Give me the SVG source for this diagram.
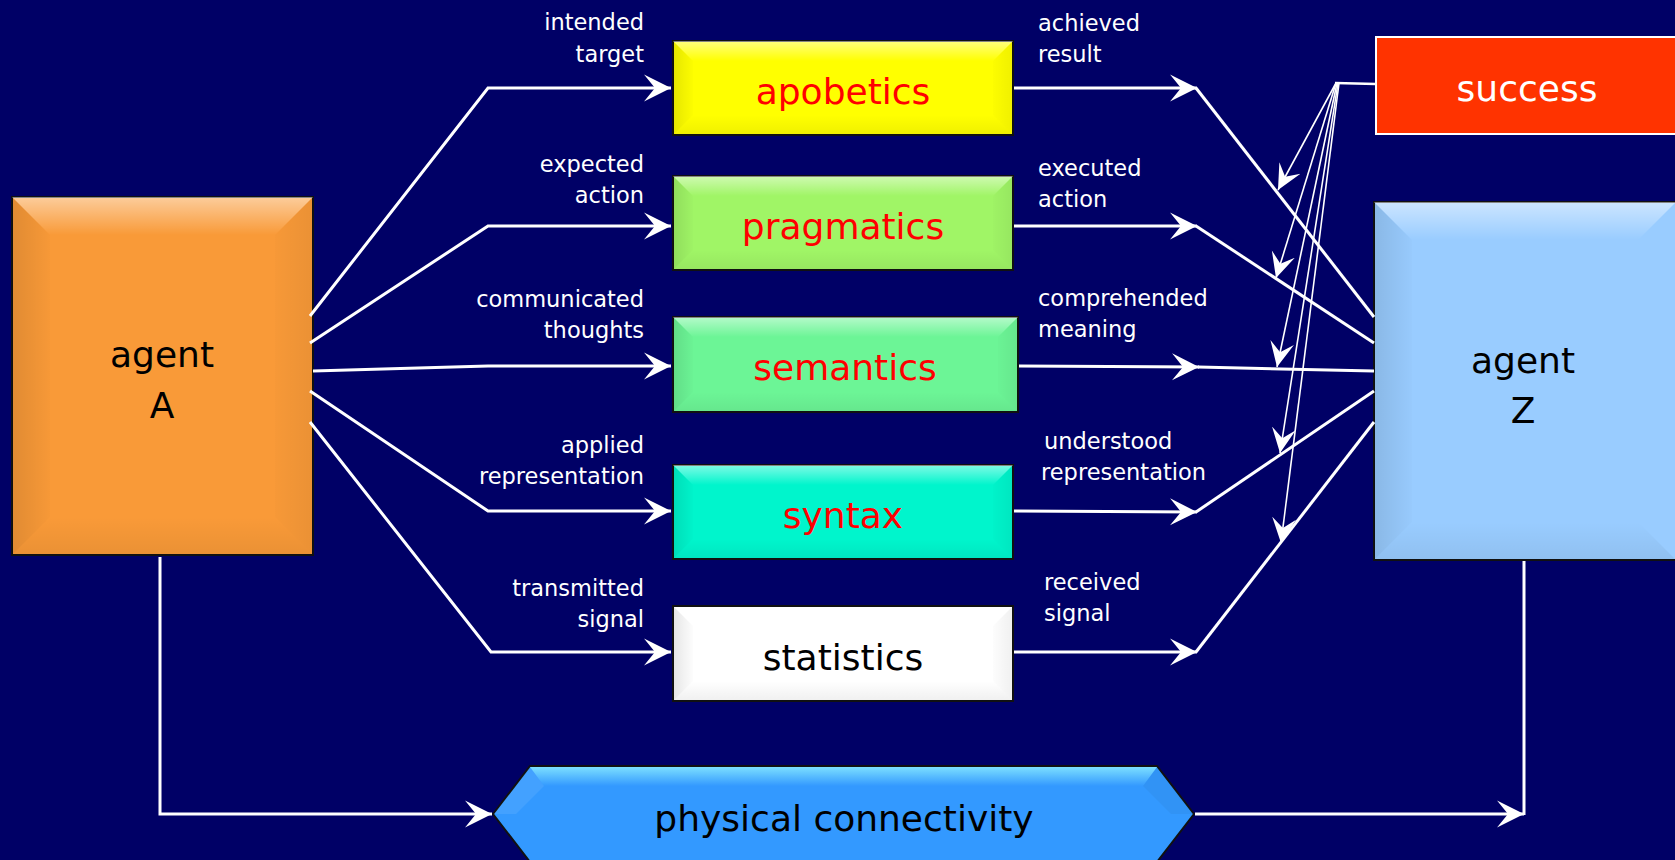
<svg xmlns="http://www.w3.org/2000/svg" width="1675" height="860" viewBox="0 0 1675 860">
<defs>
<linearGradient id="gTop" x1="0" y1="0" x2="0" y2="1"><stop offset="0" stop-color="#fff" stop-opacity="0.5"/><stop offset="1" stop-color="#fff" stop-opacity="0"/></linearGradient>
<linearGradient id="gBot" x1="0" y1="0" x2="0" y2="1"><stop offset="0" stop-color="#000" stop-opacity="0"/><stop offset="1" stop-color="#000" stop-opacity="0.06"/></linearGradient>
<linearGradient id="gLeft" x1="0" y1="0" x2="1" y2="0"><stop offset="0" stop-color="#000" stop-opacity="0.1"/><stop offset="1" stop-color="#000" stop-opacity="0.01"/></linearGradient>
<linearGradient id="gRight" x1="0" y1="0" x2="1" y2="0"><stop offset="0" stop-color="#000" stop-opacity="0.01"/><stop offset="1" stop-color="#000" stop-opacity="0.06"/></linearGradient>
<linearGradient id="gHex" x1="0" y1="0" x2="0" y2="1"><stop offset="0" stop-color="#8ef0ff"/><stop offset="1" stop-color="#3399ff"/></linearGradient>
<marker id="arr" markerUnits="userSpaceOnUse" markerWidth="28" markerHeight="28" refX="27" refY="13.5" orient="auto" viewBox="0 0 28 27">
<path d="M0,0 L27,13.5 L0,27 L11,13.5 z" fill="#fff"/>
</marker>
<marker id="arrs" markerUnits="userSpaceOnUse" markerWidth="26" markerHeight="26" refX="25" refY="12" orient="auto" viewBox="0 0 26 24">
<path d="M0,0 L25,12 L0,24 L10,12 z" fill="#fff"/>
</marker>
</defs>
<style>
.box{stroke:#111;stroke-width:2}
.t{fill:url(#gTop)}.b{fill:url(#gBot)}.l{fill:url(#gLeft)}.r{fill:url(#gRight)}
.big{font-family:"DejaVu Sans","Liberation Sans",sans-serif;font-size:36px;text-anchor:middle}
.lab{font-family:"DejaVu Sans","Liberation Sans",sans-serif;font-size:22.5px;fill:#fff}
.le{text-anchor:end}
.ln{fill:none;stroke:#fff;stroke-width:3}
.th{fill:none;stroke:#fff;stroke-width:1.6}
</style>
<rect x="0" y="0" width="1675" height="860" fill="#000066"/>

<g id="agentA">
<rect class="box" x="12" y="197" width="301" height="358" fill="#f99a38"/>
<polygon class="t" points="12,197 313,197 275,235 50,235"/>
<polygon class="l" points="12,197 50,235 50,517 12,555"/>
<polygon class="r" points="313,197 275,235 275,517 313,555"/>
<polygon class="b" points="12,555 313,555 275,517 50,517"/>
<text class="big" x="162" y="367" fill="#000">agent</text>
<text class="big" x="162" y="418" fill="#000">A</text>
</g>

<g id="agentZ">
<rect class="box" x="1374" y="202" width="302" height="358" fill="#99ccff"/>
<polygon class="t" points="1374,202 1676,202 1638,240 1412,240"/>
<polygon class="l" points="1374,202 1412,240 1412,522 1374,560"/>
<polygon class="b" points="1374,560 1676,560 1638,522 1412,522"/>
<text class="big" x="1523" y="373" fill="#000">agent</text>
<text class="big" x="1523" y="423" fill="#000">Z</text>
</g>

<g id="success">
<rect x="1376" y="37" width="302" height="97" fill="#ff3300" stroke="#fff" stroke-width="2"/>
<text class="big" x="1527" y="101" fill="#fff">success</text>
</g>

<g id="apobetics">
<rect class="box" x="673" y="41" width="340" height="94" fill="#ffff00"/>
<polygon class="t" points="673,41 1013,41 993,61 693,61"/>
<polygon class="l" points="673,41 693,61 693,115 673,135"/>
<polygon class="r" points="1013,41 993,61 993,115 1013,135"/>
<polygon class="b" points="673,135 1013,135 993,115 693,115"/>
<text class="big" x="843" y="104" fill="#ff0000">apobetics</text>
</g>

<g id="pragmatics">
<rect class="box" x="673" y="176" width="340" height="94" fill="#a0f566"/>
<polygon class="t" points="673,176 1013,176 993,196 693,196"/>
<polygon class="l" points="673,176 693,196 693,250 673,270"/>
<polygon class="r" points="1013,176 993,196 993,250 1013,270"/>
<polygon class="b" points="673,270 1013,270 993,250 693,250"/>
<text class="big" x="843" y="239" fill="#ff0000">pragmatics</text>
</g>

<g id="semantics">
<rect class="box" x="673" y="317" width="345" height="95" fill="#6cf596"/>
<polygon class="t" points="673,317 1018,317 998,337 693,337"/>
<polygon class="l" points="673,317 693,337 693,392 673,412"/>
<polygon class="r" points="1018,317 998,337 998,392 1018,412"/>
<polygon class="b" points="673,412 1018,412 998,392 693,392"/>
<text class="big" x="845" y="380" fill="#ff0000">semantics</text>
</g>

<g id="syntax">
<rect class="box" x="673" y="465" width="340" height="94" fill="#00f5cc"/>
<polygon class="t" points="673,465 1013,465 993,485 693,485"/>
<polygon class="l" points="673,465 693,485 693,539 673,559"/>
<polygon class="r" points="1013,465 993,485 993,539 1013,559"/>
<polygon class="b" points="673,559 1013,559 993,539 693,539"/>
<text class="big" x="843" y="528" fill="#ff0000">syntax</text>
</g>

<g id="statistics">
<rect class="box" x="673" y="606" width="340" height="95" fill="#ffffff"/>
<polygon class="l" points="673,606 693,626 693,681 673,701"/>
<polygon class="r" points="1013,606 993,626 993,681 1013,701"/>
<polygon class="b" points="673,701 1013,701 993,681 693,681"/>
<text class="big" x="843" y="670" fill="#000">statistics</text>
</g>

<g id="physical">
<polygon points="493,814 530,766 1157,766 1194,814 1157,862 530,862" fill="#3399ff" stroke="#111" stroke-width="2"/>
<polygon points="530,767 1157,767 1143,786 544,786" fill="url(#gHex)" opacity="0.8"/>
<polygon points="494,814 530,767 544,786 516,814" fill="#fff" opacity="0.08"/>
<polygon points="1193,814 1157,767 1143,786 1171,814" fill="#000" opacity="0.04"/>
<text class="big" x="844" y="831" fill="#000">physical connectivity</text>
</g>

<g id="labels">
<text class="lab le" x="644" y="30">intended</text>
<text class="lab le" x="644" y="62">target</text>
<text class="lab le" x="644" y="172">expected</text>
<text class="lab le" x="644" y="203">action</text>
<text class="lab le" x="644" y="307">communicated</text>
<text class="lab le" x="644" y="338">thoughts</text>
<text class="lab le" x="644" y="453">applied</text>
<text class="lab le" x="644" y="484">representation</text>
<text class="lab le" x="644" y="596">transmitted</text>
<text class="lab le" x="644" y="627">signal</text>
<text class="lab" x="1038" y="31">achieved</text>
<text class="lab" x="1038" y="62">result</text>
<text class="lab" x="1038" y="176">executed</text>
<text class="lab" x="1038" y="207">action</text>
<text class="lab" x="1038" y="306">comprehended</text>
<text class="lab" x="1038" y="337">meaning</text>
<text class="lab" x="1044" y="449">understood</text>
<text class="lab" x="1041" y="480">representation</text>
<text class="lab" x="1044" y="590">received</text>
<text class="lab" x="1044" y="621">signal</text>
</g>

<g id="connectors">
<polyline class="ln" points="310,316 488,88 671,88" marker-end="url(#arr)"/>
<polyline class="ln" points="310,343 488,226 671,226" marker-end="url(#arr)"/>
<polyline class="ln" points="313,371 488,366 671,366" marker-end="url(#arr)"/>
<polyline class="ln" points="310,391 488,511 671,511" marker-end="url(#arr)"/>
<polyline class="ln" points="310,422 491,652 671,652" marker-end="url(#arr)"/>

<line class="ln" x1="1014" y1="88" x2="1197" y2="88" marker-end="url(#arr)"/>
<line class="ln" x1="1196" y1="88" x2="1374" y2="317"/>
<line class="ln" x1="1014" y1="226" x2="1197" y2="226" marker-end="url(#arr)"/>
<line class="ln" x1="1196" y1="226" x2="1374" y2="343"/>
<line class="ln" x1="1019" y1="366" x2="1199" y2="367" marker-end="url(#arr)"/>
<line class="ln" x1="1198" y1="367" x2="1374" y2="371"/>
<line class="ln" x1="1014" y1="511" x2="1197" y2="512" marker-end="url(#arr)"/>
<line class="ln" x1="1196" y1="512" x2="1374" y2="391"/>
<line class="ln" x1="1014" y1="652" x2="1197" y2="652" marker-end="url(#arr)"/>
<line class="ln" x1="1196" y1="652" x2="1374" y2="422"/>

<line x1="1376" y1="84" x2="1335" y2="83" stroke="#fff" stroke-width="2.5"/>
<line class="th" x1="1336" y1="83" x2="1278" y2="190" marker-end="url(#arrs)"/>
<line class="th" x1="1336" y1="83" x2="1276" y2="278" marker-end="url(#arrs)"/>
<line class="th" x1="1337" y1="83" x2="1277" y2="367" marker-end="url(#arrs)"/>
<line class="th" x1="1338" y1="83" x2="1280" y2="453" marker-end="url(#arrs)"/>
<line class="th" x1="1339" y1="83" x2="1281" y2="543" marker-end="url(#arrs)"/>

<polyline class="ln" points="160,557 160,814 492,814" marker-end="url(#arr)"/>
<line class="ln" x1="1195" y1="814" x2="1524" y2="814" marker-end="url(#arr)"/>
<line class="ln" x1="1524" y1="561" x2="1524" y2="815"/>
</g>
</svg>
